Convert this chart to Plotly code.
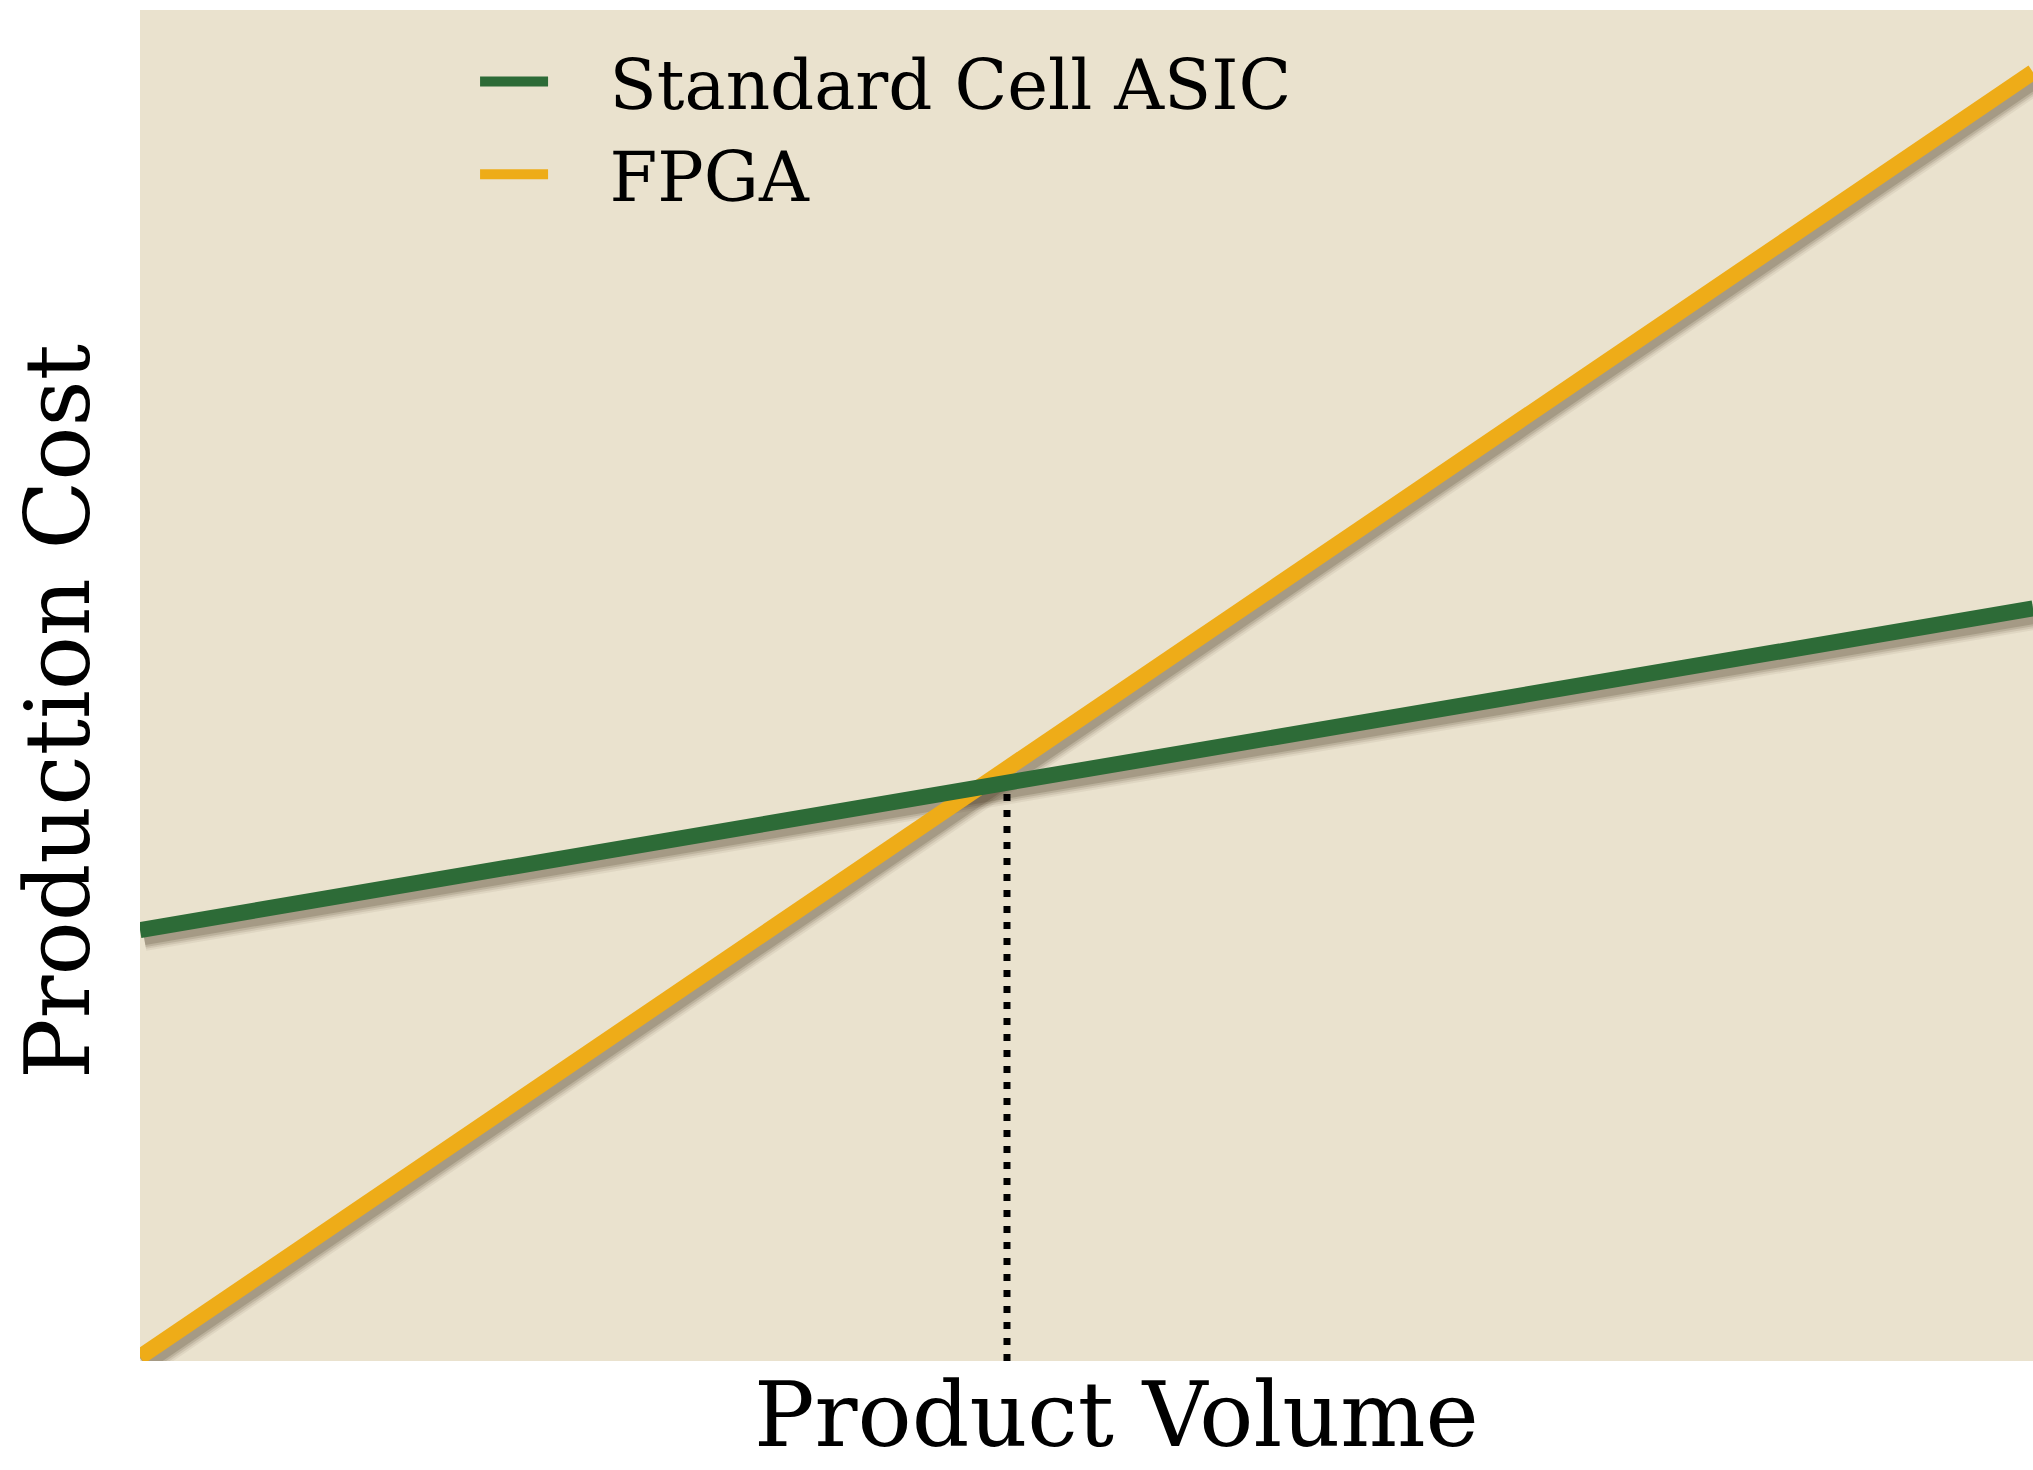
import plotly.graph_objects as go

# Data (normalised units)
volume = [0, 100]
asic_cost = [31.9, 55.7]
fpga_cost = [0.3, 95.4]
breakeven_x = [45.8, 45.8]
breakeven_y = [0, 43.0]

series_names = ["Standard Cell ASIC", "FPGA"]
x_title = "Product Volume"
y_title = "Production Cost"

GREEN = "rgb(45,107,55)"
YELLOW = "rgb(238,172,24)"
BG = "rgb(234,226,206)"
FONT = "DejaVu Serif"

W, H = 2033, 1470
ML, MR, MT, MB = 140, 0, 10, 109
pw = W - ML - MR
ph = H - MT - MB
XR = [0, 100]
YR = [0, 100]
# shadow offset in pixels -> data units for the base (shadow) axes
sdx, sdy = 4, 7
xr_sh = [XR[0] - sdx * (XR[1] - XR[0]) / pw, XR[1] - sdx * (XR[1] - XR[0]) / pw]
yr_sh = [YR[0] + sdy * (YR[1] - YR[0]) / ph, YR[1] + sdy * (YR[1] - YR[0]) / ph]

LW = 16
fig = go.Figure()

# soft drop shadows on the base axes
for ys in (fpga_cost, asic_cost):
    for w, a in ((LW + 12, 0.06), (LW + 8, 0.09), (LW + 4, 0.12), (LW, 0.16)):
        fig.add_trace(go.Scatter(x=volume, y=ys, mode="lines", xaxis="x", yaxis="y",
                                 line=dict(color=f"rgba(50,35,10,{a})", width=w),
                                 showlegend=False, hoverinfo="skip"))

# break-even dotted line
fig.add_trace(go.Scatter(x=breakeven_x, y=breakeven_y, mode="lines", xaxis="x2", yaxis="y2",
                         line=dict(color="black", width=7, dash="7px,9px"),
                         showlegend=False, hoverinfo="skip", cliponaxis=False))

GAP = "\u2002\u00a0"
fig.add_trace(go.Scatter(x=volume, y=fpga_cost, mode="lines", name=GAP + series_names[1],
                         xaxis="x2", yaxis="y2", legendrank=2, cliponaxis=False,
                         line=dict(color=YELLOW, width=LW)))
fig.add_trace(go.Scatter(x=volume, y=asic_cost, mode="lines", name=GAP + series_names[0],
                         xaxis="x2", yaxis="y2", legendrank=1, cliponaxis=False,
                         line=dict(color=GREEN, width=LW)))

axis_common = dict(showgrid=False, zeroline=False, showticklabels=False, ticks="",
                   showline=False, fixedrange=True)
fig.update_layout(
    width=W, height=H,
    margin=dict(l=ML, r=MR, t=MT, b=MB, autoexpand=False),
    paper_bgcolor="white", plot_bgcolor=BG,
    font=dict(family=FONT, color="black"),
    xaxis=dict(range=xr_sh, **axis_common),
    yaxis=dict(range=yr_sh, **axis_common),
    xaxis2=dict(range=XR, overlaying="x", **axis_common),
    yaxis2=dict(range=YR, overlaying="y", **axis_common),
    legend=dict(x=0.177, y=0.985, xanchor="left", yanchor="top",
                bgcolor="rgba(0,0,0,0)", font=dict(size=69, family=FONT),
                itemwidth=68, tracegroupgap=0),
    showlegend=True,
    annotations=[
        dict(text=x_title, xref="paper", yref="paper", x=0.5156, y=-0.0395,
             xanchor="center", yanchor="middle", showarrow=False,
             font=dict(size=90, family=FONT, color="black")),
        dict(text=y_title, xref="paper", yref="paper", x=-0.0433, y=0.4804,
             xanchor="center", yanchor="middle", textangle=-90, showarrow=False,
             font=dict(size=90, family=FONT, color="black")),
    ],
)

fig.write_html("out.html", config={"displayModeBar": False},
               post_script="document.body.style.margin='0';document.body.style.overflow='hidden';")
